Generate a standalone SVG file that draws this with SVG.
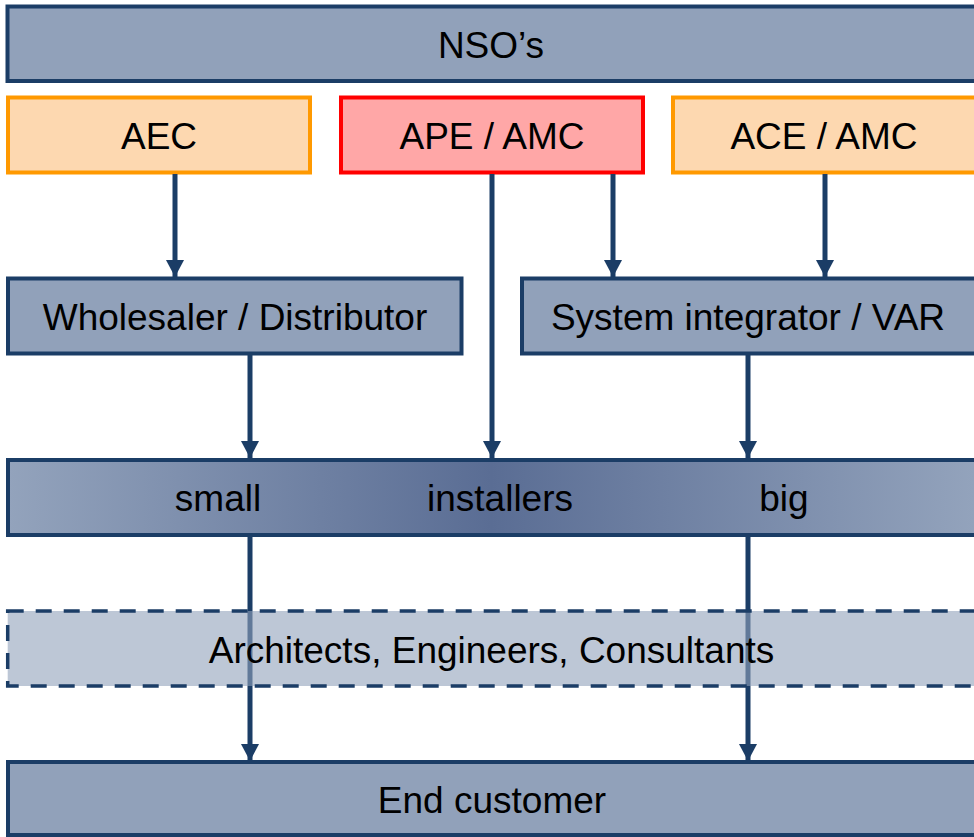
<svg xmlns="http://www.w3.org/2000/svg" width="974" height="837" viewBox="0 0 974 837">
<defs>
<style>
.box{fill:#91a1ba;stroke:#1b3d66;stroke-width:4}
.org{fill:#fdd8b0;stroke:#ff9900;stroke-width:4}
.red{fill:#ffa7a7;stroke:#ff0000;stroke-width:4}
.dash{fill:#91a1ba;fill-opacity:0.6;stroke:#1b3d66;stroke-width:3.5;stroke-dasharray:16 12}
.t{font-family:"Liberation Sans",Arial,sans-serif;font-size:37px;fill:#000;text-anchor:middle}
.c{stroke:#1b3d66;stroke-width:5;fill:none;marker-end:url(#ah)}
</style>
<linearGradient id="g" gradientUnits="userSpaceOnUse" x1="8" y1="0" x2="974" y2="0">
<stop offset="0" stop-color="#93a3bc"/>
<stop offset="0.5" stop-color="#5a6d94"/>
<stop offset="1" stop-color="#93a3bc"/>
</linearGradient>
<marker id="ah" markerUnits="userSpaceOnUse" markerWidth="18" markerHeight="18" refX="17" refY="9" orient="auto" viewBox="0 0 17 18">
<path d="M0,0 L17,9 L0,18 Z" fill="#1b3d66"/>
</marker>
</defs>
<g id="nsos"><rect class="box" x="7.5" y="6.5" width="990" height="74.5"/><text class="t" x="491" y="58">NSO’s</text></g>
<g id="aec"><rect class="org" x="8" y="97.5" width="302" height="75"/><text class="t" x="159" y="149">AEC</text></g>
<g id="ape"><rect class="red" x="341" y="97.5" width="302" height="75"/><text class="t" x="492" y="149">APE / AMC</text></g>
<g id="ace"><rect class="org" x="673" y="97.5" width="330" height="75"/><text class="t" x="824" y="149">ACE / AMC</text></g>
<g id="wholesaler"><rect class="box" x="8" y="278.5" width="453.5" height="75"/><text class="t" x="235" y="330">Wholesaler / Distributor</text></g>
<g id="si"><rect class="box" x="522" y="278.5" width="480" height="75"/><text class="t" x="748" y="330">System integrator / VAR</text></g>
<g id="connectors">
<line class="c" x1="175" y1="174" x2="175" y2="277"/>
<line class="c" x1="613" y1="174" x2="613" y2="277"/>
<line class="c" x1="825" y1="174" x2="825" y2="277"/>
<line class="c" x1="492" y1="174" x2="492" y2="458"/>
<line class="c" x1="250" y1="355" x2="250" y2="458"/>
<line class="c" x1="748" y1="355" x2="748" y2="458"/>
<line class="c" x1="250" y1="537" x2="250" y2="761"/>
<line class="c" x1="748" y1="537" x2="748" y2="761"/>
</g>
<g id="installers"><rect x="8" y="460" width="990" height="75" fill="url(#g)" stroke="#1b3d66" stroke-width="4"/><text class="t" x="218" y="511">small</text><text class="t" x="500" y="511">installers</text><text class="t" x="784" y="511">big</text></g>
<g id="aec2"><rect class="dash" x="7.7" y="611" width="990" height="75"/><text class="t" x="491.5" y="663">Architects, Engineers, Consultants</text></g>
<g id="endcustomer"><rect class="box" x="8" y="762" width="990" height="73"/><text class="t" x="492" y="813">End customer</text></g>
</svg>
